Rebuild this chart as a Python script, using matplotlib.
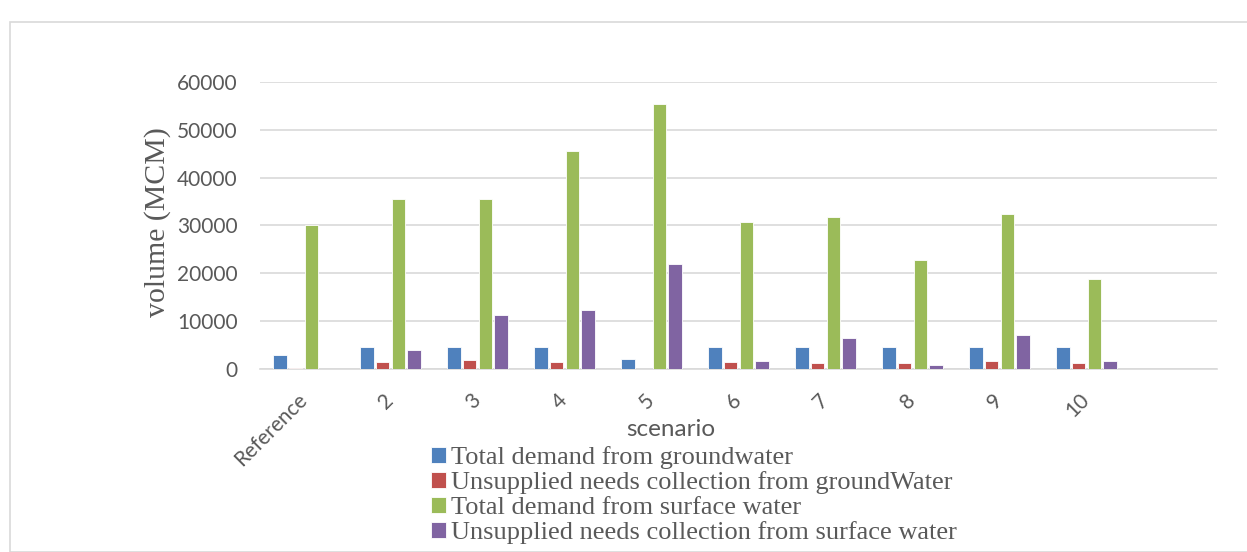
import matplotlib
matplotlib.use("Agg")
import matplotlib.pyplot as plt
import numpy as np
from matplotlib.patches import Rectangle

# scenario labels (last slot is empty in the original chart)
scenarios = ["Reference", "2", "3", "4", "5", "6", "7", "8", "9", "10", ""]

gw_demand = [3000, 4700, 4700, 4700, 2100, 4700, 4700, 4700, 4700, 4700, 0]
gw_unsupplied = [300, 1400, 1900, 1400, 100, 1400, 1300, 1300, 1600, 1300, 0]
sw_demand = [30000, 35500, 35500, 45500, 55300, 30800, 31700, 22800, 32300, 18800, 0]
sw_unsupplied = [100, 4000, 11300, 12300, 22000, 1600, 6400, 850, 7200, 1750, 0]

series_names = [
    "Total demand from groundwater",
    "Unsupplied needs collection from groundWater",
    "Total demand from surface water",
    "Unsupplied needs collection from surface water",
]
colors = ["#4F81BD", "#C0504D", "#9BBB59", "#8064A2"]

W, H = 1247, 552
fig = plt.figure(figsize=(W / 100, H / 100), dpi=100)
ax = fig.add_axes([260 / W, 1 - 369 / H, 957 / W, 287 / H])

# light border round the chart area
fig.patches.append(Rectangle((10 / W, 0.0), 1.0, 1 - 22 / H,
                             transform=fig.transFigure, fill=False,
                             edgecolor="#d9d9d9", linewidth=1.2))

x = np.arange(len(scenarios))
slot = 0.18
width = 0.15
all_series = [gw_demand, gw_unsupplied, sw_demand, sw_unsupplied]
for i, (vals, name, c) in enumerate(zip(all_series, series_names, colors)):
    ax.bar(x + (i - 1.5) * slot, vals, width, color=c, label=name,
           edgecolor="white", linewidth=0.6, zorder=3)

ax.set_xlim(-0.5, len(scenarios) - 0.5)
ax.set_ylim(0, 60000)
ax.set_yticks(range(0, 60001, 10000))
ax.grid(axis="y", color="#d9d9d9", linewidth=1.2, zorder=0)
for s in ["top", "right", "left"]:
    ax.spines[s].set_visible(False)
ax.spines["bottom"].set_color("#d9d9d9")
ax.spines["bottom"].set_linewidth(1.2)
ax.tick_params(length=0, colors="#595959", labelsize=15)
ax.tick_params(axis="y", pad=16)
ax.tick_params(axis="x", pad=20)

ax.set_xticks(x)
ax.set_xticklabels(scenarios, rotation=45, ha="right", va="center",
                   rotation_mode="anchor", family="Lato", color="#595959",
                   fontsize=15)
for lbl in ax.get_yticklabels():
    lbl.set_family("Lato")

ax.set_ylabel("volume (MCM)", family="Liberation Serif", fontsize=21.5,
              color="#595959", va="center")
ax.yaxis.set_label_coords((158 - 260) / 957, (369 - 222) / 287)
ax.set_xlabel("scenario", family="Lato", fontsize=17.5, color="#595959",
              va="center")
ax.xaxis.set_label_coords((671 - 260) / 957, (369 - 430) / 287)

leg = ax.legend(loc="upper left", bbox_to_anchor=(431 / W, 1 - 446 / H),
                bbox_transform=fig.transFigure, frameon=False,
                prop={"family": "Liberation Serif", "size": 19},
                handlelength=0.55, handleheight=0.55, handletextpad=0.2,
                labelspacing=0.09, borderaxespad=0, borderpad=0)
for t in leg.get_texts():
    t.set_color("#595959")

fig.savefig("out.png", dpi=100)
